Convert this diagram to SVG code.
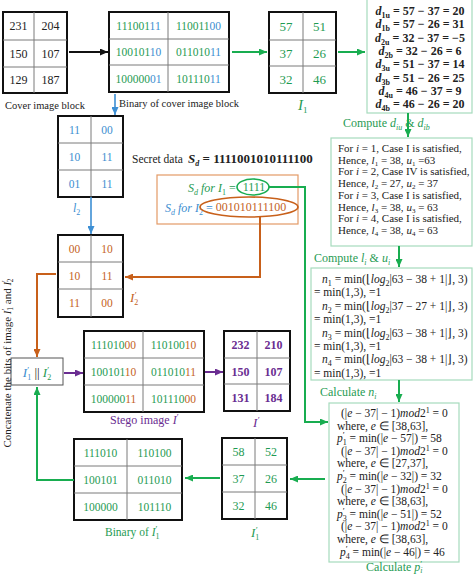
<svg xmlns="http://www.w3.org/2000/svg" width="474" height="576" viewBox="0 0 474 576">
<defs>
<marker id="mk" viewBox="0 0 8 7" refX="8" refY="3.5" markerWidth="8" markerHeight="7" markerUnits="userSpaceOnUse" orient="auto"><path d="M0,0 L8,3.5 L0,7 z" fill="#111"/></marker>
<marker id="mg" viewBox="0 0 8 7" refX="8" refY="3.5" markerWidth="8" markerHeight="7" markerUnits="userSpaceOnUse" orient="auto"><path d="M0,0 L8,3.5 L0,7 z" fill="#18ad50"/></marker>
<marker id="mb" viewBox="0 0 8 7" refX="8" refY="3.5" markerWidth="8" markerHeight="7" markerUnits="userSpaceOnUse" orient="auto"><path d="M0,0 L8,3.5 L0,7 z" fill="#3d8fd4"/></marker>
<marker id="mo" viewBox="0 0 8 7" refX="8" refY="3.5" markerWidth="8" markerHeight="7" markerUnits="userSpaceOnUse" orient="auto"><path d="M0,0 L8,3.5 L0,7 z" fill="#c8601a"/></marker>
<marker id="mp" viewBox="0 0 8 7" refX="8" refY="3.5" markerWidth="8" markerHeight="7" markerUnits="userSpaceOnUse" orient="auto"><path d="M0,0 L8,3.5 L0,7 z" fill="#6a2d91"/></marker>
</defs>
<style>
text{font-family:"Liberation Serif","Times New Roman",serif;fill:#222}
.out{fill:#fff;stroke:#111;stroke-width:2}
.in{stroke:#7a7a7a;stroke-width:1;fill:none}
.c{text-anchor:middle}
.n12{font-size:12px}
.n13{font-size:13px}
.bin{font-size:11.5px}
.g{fill:#1f9b53}
.b{fill:#3b8ed0}
.o{fill:#c4621d}
.p{fill:#6a2d91}
.it{font-style:italic}
.bd{font-weight:bold}
.box{fill:#fff;stroke:#a6dbbd;stroke-width:1.2}
.lg{stroke:#18ad50;stroke-width:2;fill:none}
.lb{stroke:#3d8fd4;stroke-width:1.6;fill:none}
.lo{stroke:#c8601a;stroke-width:2;fill:none}
.lp{stroke:#6a2d91;stroke-width:2;fill:none}
.lk{stroke:#111;stroke-width:2;fill:none}
.dt{font-size:12px;font-weight:bold;text-anchor:middle}
.bt{font-size:11px}
.nt{font-size:11.5px}
.cap{font-size:12px}
</style>
<rect width="474" height="576" fill="#fff"/>

<g id="cover">
<rect class="out" x="3" y="12" width="64" height="81"/>
<path class="in" d="M34,12V93M3,40H67M3,67H67"/>
<g class="c n12">
<text x="18.5" y="30">231</text><text x="50.5" y="30">204</text>
<text x="18.5" y="57.5">150</text><text x="50.5" y="57.5">107</text>
<text x="18.5" y="84">129</text><text x="50.5" y="84">187</text>
</g>
<text x="5" y="109" font-size="10.5">Cover image block</text>
</g>

<g id="binary-cover">
<rect class="out" x="109" y="12" width="120" height="80"/>
<path class="in" d="M168,12V92M109,39H229M109,65H229"/>
<g class="c bin">
<text x="138.5" y="29.5"><tspan class="g">111001</tspan><tspan class="b">11</tspan></text>
<text x="198.5" y="29.5"><tspan class="g">110011</tspan><tspan class="b">00</tspan></text>
<text x="138.5" y="56"><tspan class="g">100101</tspan><tspan class="b">10</tspan></text>
<text x="198.5" y="56"><tspan class="g">011010</tspan><tspan class="b">11</tspan></text>
<text x="138.5" y="82.5"><tspan class="g">100000</tspan><tspan class="b">01</tspan></text>
<text x="198.5" y="82.5"><tspan class="g">101110</tspan><tspan class="b">11</tspan></text>
</g>
<text x="119" y="107" font-size="10.5">Binary of cover image block</text>
</g>

<g id="I1">
<rect class="out" x="269" y="12" width="67" height="81"/>
<path class="in" d="M303,12V93M269,40H336M269,66H336"/>
<g class="c n13 g">
<text class="g" x="286" y="30.5">57</text><text class="g" x="319.5" y="30.5">51</text>
<text class="g" x="286" y="57.5">37</text><text class="g" x="319.5" y="57.5">26</text>
<text class="g" x="286" y="84">32</text><text class="g" x="319.5" y="84">46</text>
</g>
<text x="298" y="110" font-size="15" class="it g">I<tspan font-size="9" dy="3" font-style="normal" class="g">1</tspan></text>
</g>

<g id="d-box">
<rect class="box" x="367" y="-2" width="105" height="115"/>
<text class="dt" x="420" y="15"><tspan class="it">d</tspan><tspan font-size="8" dy="3">1u</tspan><tspan dy="-3"> = 57 − 37 = 20</tspan></text>
<text class="dt" x="420" y="28.3"><tspan class="it">d</tspan><tspan font-size="8" dy="3">1b</tspan><tspan dy="-3"> = 57 − 26 = 31</tspan></text>
<text class="dt" x="420" y="41.6"><tspan class="it">d</tspan><tspan font-size="8" dy="3">2u</tspan><tspan dy="-3"> = 32 − 37 = −5</tspan></text>
<text class="dt" x="420" y="54.9"><tspan class="it">d</tspan><tspan font-size="8" dy="3">2b</tspan><tspan dy="-3"> = 32 − 26 = 6</tspan></text>
<text class="dt" x="420" y="68.2"><tspan class="it">d</tspan><tspan font-size="8" dy="3">3u</tspan><tspan dy="-3"> = 51 − 37 = 14</tspan></text>
<text class="dt" x="420" y="81.5"><tspan class="it">d</tspan><tspan font-size="8" dy="3">3b</tspan><tspan dy="-3"> = 51 − 26 = 25</tspan></text>
<text class="dt" x="420" y="94.8"><tspan class="it">d</tspan><tspan font-size="8" dy="3">4u</tspan><tspan dy="-3"> = 46 − 37 = 9</tspan></text>
<text class="dt" x="420" y="108.1"><tspan class="it">d</tspan><tspan font-size="8" dy="3">4b</tspan><tspan dy="-3"> = 46 − 26 = 20</tspan></text>
</g>
<text class="cap g" x="343" y="127">Compute <tspan class="it g">d</tspan><tspan class="it g" font-size="8" dy="3">iu</tspan><tspan class="g" dy="-3"> &amp; </tspan><tspan class="it g">d</tspan><tspan class="it g" font-size="8" dy="3">ib</tspan></text>

<g id="case-box">
<rect class="box" x="331" y="138" width="141" height="108"/>
<text class="bt" x="338" y="152">For <tspan class="it">i</tspan> = 1, Case I is satisfied,</text>
<text class="bt" x="338" y="163.7">Hence, <tspan class="it">l</tspan><tspan font-size="7" dy="2">1</tspan><tspan dy="-2"> = 38, </tspan><tspan class="it">u</tspan><tspan font-size="7" dy="2">1</tspan><tspan dy="-2"> =63</tspan></text>
<text class="bt" x="338" y="175.4">For <tspan class="it">i</tspan> = 2, Case IV is satisfied,</text>
<text class="bt" x="338" y="187.1">Hence, <tspan class="it">l</tspan><tspan font-size="7" dy="2">2</tspan><tspan dy="-2"> = 27, </tspan><tspan class="it">u</tspan><tspan font-size="7" dy="2">2</tspan><tspan dy="-2"> = 37</tspan></text>
<text class="bt" x="338" y="198.8">For <tspan class="it">i</tspan> = 3, Case I is satisfied,</text>
<text class="bt" x="338" y="210.5">Hence, <tspan class="it">l</tspan><tspan font-size="7" dy="2">3</tspan><tspan dy="-2"> = 38, </tspan><tspan class="it">u</tspan><tspan font-size="7" dy="2">3</tspan><tspan dy="-2"> = 63</tspan></text>
<text class="bt" x="338" y="222.2">For <tspan class="it">i</tspan> = 4, Case I is satisfied,</text>
<text class="bt" x="338" y="233.9">Hence, <tspan class="it">l</tspan><tspan font-size="7" dy="2">4</tspan><tspan dy="-2"> = 38, </tspan><tspan class="it">u</tspan><tspan font-size="7" dy="2">4</tspan><tspan dy="-2"> = 63</tspan></text>
</g>
<text class="cap g" x="314" y="262">Compute <tspan class="it g">l</tspan><tspan class="it g" font-size="8" dy="3">i</tspan><tspan class="g" dy="-3"> &amp; </tspan><tspan class="it g">u</tspan><tspan class="it g" font-size="8" dy="3">i</tspan></text>

<g id="n-box">
<rect class="box" x="311" y="268" width="161" height="112"/>
<text class="nt" x="322" y="283"><tspan class="it">n</tspan><tspan font-size="8" dy="3">1</tspan><tspan dy="-3"> = min(⌊</tspan><tspan class="it">log</tspan><tspan font-size="8" dy="3">2</tspan><tspan dy="-3">|63 − 38 + 1|⌋, 3)</tspan></text>
<text class="nt" x="314" y="296.4">= min(1,3),  =1</text>
<text class="nt" x="322" y="309.8"><tspan class="it">n</tspan><tspan font-size="8" dy="3">2</tspan><tspan dy="-3"> = min(⌊</tspan><tspan class="it">log</tspan><tspan font-size="8" dy="3">2</tspan><tspan dy="-3">|37 − 27 + 1|⌋, 3)</tspan></text>
<text class="nt" x="314" y="323.2">= min(1,3),  =1</text>
<text class="nt" x="322" y="336.6"><tspan class="it">n</tspan><tspan font-size="8" dy="3">3</tspan><tspan dy="-3"> = min(⌊</tspan><tspan class="it">log</tspan><tspan font-size="8" dy="3">2</tspan><tspan dy="-3">|63 − 38 + 1|⌋, 3)</tspan></text>
<text class="nt" x="314" y="350">= min(1,3),  =1</text>
<text class="nt" x="322" y="363.4"><tspan class="it">n</tspan><tspan font-size="8" dy="3">4</tspan><tspan dy="-3"> = min(⌊</tspan><tspan class="it">log</tspan><tspan font-size="8" dy="3">2</tspan><tspan dy="-3">|63 − 38 + 1|⌋, 3)</tspan></text>
<text class="nt" x="314" y="376.8">= min(1,3),  =1</text>
</g>
<text class="cap g" x="320" y="396">Calculate <tspan class="it g">n</tspan><tspan class="it g" font-size="8" dy="3">i</tspan></text>

<g id="p-box">
<rect class="box" x="329" y="403" width="130" height="159"/>
<text class="nt" x="341" y="417">(|<tspan class="it">e</tspan> − 37| − 1)<tspan class="it">mod</tspan>2<tspan font-size="8" dy="-4">1</tspan><tspan dy="4"> = 0</tspan></text>
<text class="nt" x="337" y="429.6">where, <tspan class="it">e</tspan> ∈ [38,63],</text>
<text class="nt" x="337" y="442.2"><tspan class="it">p</tspan><tspan font-size="9" dy="-4">′</tspan><tspan font-size="8" dy="7" dx="-2">1</tspan><tspan dy="-3"> = min(|</tspan><tspan class="it">e</tspan> − 57|) = 58</text>
<text class="nt" x="341" y="454.8">(|<tspan class="it">e</tspan> − 37| − 1)<tspan class="it">mod</tspan>2<tspan font-size="8" dy="-4">1</tspan><tspan dy="4"> = 0</tspan></text>
<text class="nt" x="337" y="467.4">where, <tspan class="it">e</tspan> ∈ [27,37],</text>
<text class="nt" x="337" y="480"><tspan class="it">p</tspan><tspan font-size="9" dy="-4">′</tspan><tspan font-size="8" dy="7" dx="-2">2</tspan><tspan dy="-3"> = min(|</tspan><tspan class="it">e</tspan> − 32|) = 32</text>
<text class="nt" x="341" y="492.6">(|<tspan class="it">e</tspan> − 37| − 1)<tspan class="it">mod</tspan>2<tspan font-size="8" dy="-4">1</tspan><tspan dy="4"> = 0</tspan></text>
<text class="nt" x="337" y="505.2">where, <tspan class="it">e</tspan> ∈ [38,63],</text>
<text class="nt" x="337" y="517.8"><tspan class="it">p</tspan><tspan font-size="9" dy="-4">′</tspan><tspan font-size="8" dy="7" dx="-2">3</tspan><tspan dy="-3"> = min(|</tspan><tspan class="it">e</tspan> − 51|) = 52</text>
<text class="nt" x="341" y="530.4">(|<tspan class="it">e</tspan> − 37| − 1)<tspan class="it">mod</tspan>2<tspan font-size="8" dy="-4">1</tspan><tspan dy="4"> = 0</tspan></text>
<text class="nt" x="337" y="543">where, <tspan class="it">e</tspan> ∈ [38,63],</text>
<text class="nt" x="340" y="555.6"><tspan class="it">p</tspan><tspan font-size="9" dy="-4">′</tspan><tspan font-size="8" dy="7" dx="-2">4</tspan><tspan dy="-3"> = min(|</tspan><tspan class="it">e</tspan> − 46|) = 46</text>
</g>
<text class="cap g" x="366" y="571">Calculate <tspan class="it g">p</tspan><tspan class="g" font-size="9" dy="-4">′</tspan><tspan class="it g" font-size="8" dy="6" dx="-2">i</tspan></text>

<g id="I2">
<rect class="out" x="58" y="116" width="65" height="81"/>
<path class="in" d="M91,116V197M58,143H123M58,170H123"/>
<g class="c bin">
<text class="b" x="74.5" y="133.5">11</text><text class="b" x="107" y="133.5">00</text>
<text class="b" x="74.5" y="160.5">10</text><text class="b" x="107" y="160.5">11</text>
<text class="b" x="74.5" y="187.5">01</text><text class="b" x="107" y="187.5">11</text>
</g>
<text class="b it" x="73" y="212" font-size="12">l<tspan class="b" font-size="8" dy="3" font-style="normal">2</tspan></text>
</g>

<g id="secret">
<text x="132" y="163" font-size="11.5">Secret data</text>
<text x="188" y="163" font-size="13" class="bd"><tspan class="it">S</tspan><tspan font-size="8" dy="3" class="it">d</tspan><tspan dy="-3"> = 1111001010111100</tspan></text>
</g>

<g id="split-box">
<rect x="157" y="175" width="141" height="49" fill="#fff" stroke="#e39a66" stroke-width="1.2"/>
<text x="188" y="192" font-size="12" class="it g">S<tspan class="g" font-size="8" dy="3">d</tspan><tspan class="g" dy="-3"> for I</tspan><tspan class="g" font-size="8" dy="3" font-style="normal">1</tspan><tspan class="g" dy="-3" font-style="normal"> =</tspan></text>
<ellipse cx="253" cy="187" rx="16" ry="8" fill="none" stroke="#18ad50" stroke-width="1.6"/>
<text x="254" y="191" font-size="12" class="c g">1111</text>
<text x="165" y="212" font-size="12" class="it b">S<tspan class="b" font-size="8" dy="3">d</tspan><tspan class="b" dy="-3"> for I</tspan><tspan class="b" font-size="8" dy="3" font-style="normal">2</tspan><tspan class="b" dy="-3" font-style="normal"> =</tspan></text>
<ellipse cx="249" cy="207" rx="49" ry="10" fill="none" stroke="#c8601a" stroke-width="1.6"/>
<text x="251" y="211" font-size="12" class="c o">001010111100</text>
</g>

<g id="I2p">
<rect class="out" x="58" y="235" width="65" height="82"/>
<path class="in" d="M91,235V317M58,262H123M58,289H123"/>
<g class="c bin">
<text class="o" x="74.5" y="252.5">00</text><text class="o" x="107" y="252.5">10</text>
<text class="o" x="74.5" y="279.5">10</text><text class="o" x="107" y="279.5">11</text>
<text class="o" x="74.5" y="307">11</text><text class="o" x="107" y="307">00</text>
</g>
<text class="o it" x="130" y="302" font-size="13">I<tspan class="o" font-size="9" dy="-4">′</tspan><tspan class="o" font-size="8" dy="7" dx="-2" font-style="normal">2</tspan></text>
</g>

<g id="concat">
<rect x="11" y="358" width="52" height="27" fill="#fff" stroke="#555" stroke-width="1"/>
<text x="37" y="377" font-size="13" class="c"><tspan class="b it">I</tspan><tspan class="b" font-size="9" dy="-4">′</tspan><tspan class="b" font-size="8" dy="7" dx="-2">1</tspan><tspan dy="-3"> || </tspan><tspan class="g it">I</tspan><tspan class="g" font-size="9" dy="-4">′</tspan><tspan class="g" font-size="8" dy="7" dx="-2">2</tspan></text>
<text transform="translate(11,363) rotate(-90)" font-size="11" class="c">Concatenate the bits of image <tspan class="it">I</tspan><tspan font-size="8" dy="-3">′</tspan><tspan font-size="7.5" dy="5" dx="-2">1</tspan><tspan dy="-2"> and </tspan><tspan class="it">I</tspan><tspan font-size="8" dy="-3">′</tspan><tspan font-size="7.5" dy="5" dx="-2">2</tspan></text>
</g>

<g id="stego">
<rect class="out" x="84" y="331" width="120" height="81"/>
<path class="in" d="M143,331V412M84,358H204M84,385H204"/>
<g class="c bin">
<text x="113.5" y="348.5"><tspan class="g">111010</tspan><tspan class="o">00</tspan></text>
<text x="173.5" y="348.5"><tspan class="g">110100</tspan><tspan class="o">10</tspan></text>
<text x="113.5" y="375.5"><tspan class="g">100101</tspan><tspan class="o">10</tspan></text>
<text x="173.5" y="375.5"><tspan class="g">011010</tspan><tspan class="o">11</tspan></text>
<text x="113.5" y="402.5"><tspan class="g">100000</tspan><tspan class="o">11</tspan></text>
<text x="173.5" y="402.5"><tspan class="g">101110</tspan><tspan class="o">00</tspan></text>
</g>
<text class="p" x="110" y="424" font-size="12">Stego image <tspan class="p it">I</tspan><tspan class="p" font-size="9" dy="-4">′</tspan></text>
</g>

<g id="Ip">
<rect class="out" x="224" y="331" width="66" height="80"/>
<path class="in" d="M257,331V411M224,358H290M224,384H290"/>
<g class="c n12 bd">
<text class="p" x="240.5" y="349">232</text><text class="p" x="273.5" y="349">210</text>
<text class="p" x="240.5" y="375.5">150</text><text class="p" x="273.5" y="375.5">107</text>
<text class="p" x="240.5" y="402">131</text><text class="p" x="273.5" y="402">184</text>
</g>
<text class="p it" x="253" y="427" font-size="13">I<tspan class="p" font-size="9" dy="-4">′</tspan></text>
</g>

<g id="I1p">
<rect class="out" x="222" y="438" width="65" height="81"/>
<path class="in" d="M255,438V519M222,465H287M222,492H287"/>
<g class="c n12">
<text class="g" x="238.5" y="456">58</text><text class="g" x="271" y="456">52</text>
<text class="g" x="238.5" y="483">37</text><text class="g" x="271" y="483">26</text>
<text class="g" x="238.5" y="510">32</text><text class="g" x="271" y="510">46</text>
</g>
<text class="g it" x="251" y="537" font-size="13">I<tspan class="g" font-size="9" dy="-4">′</tspan><tspan class="g" font-size="8" dy="7" dx="-2" font-style="normal">1</tspan></text>
</g>

<g id="binary-I1p">
<rect class="out" x="74" y="439" width="108" height="81"/>
<path class="in" d="M127,439V520M74,466H182M74,493H182"/>
<g class="c bin">
<text class="g" x="100.5" y="456.5">111010</text><text class="g" x="154.5" y="456.5">110100</text>
<text class="g" x="100.5" y="483.5">100101</text><text class="g" x="154.5" y="483.5">011010</text>
<text class="g" x="100.5" y="510.5">100000</text><text class="g" x="154.5" y="510.5">101110</text>
</g>
<text class="g" x="105" y="536" font-size="11.5">Binary of <tspan class="g it">I</tspan><tspan class="g" font-size="9" dy="-4">′</tspan><tspan class="g" font-size="8" dy="7" dx="-2">1</tspan></text>
</g>

<g id="connectors">
<path class="lk" d="M69,52H108" marker-end="url(#mk)"/>
<path class="lg" d="M232,52H267" marker-end="url(#mg)"/>
<path class="lg" d="M338,52H365" marker-end="url(#mg)"/>
<path class="lg" d="M408,113V137" marker-end="url(#mg)"/>
<path class="lg" d="M399,246V267" marker-end="url(#mg)"/>
<path class="lg" d="M399,380V402" marker-end="url(#mg)"/>
<path class="lg" d="M269,187H305V422H328" marker-end="url(#mg)"/>
<path class="lg" d="M325,479H290" marker-end="url(#mg)"/>
<path class="lg" d="M220,478H185" marker-end="url(#mg)"/>
<path class="lg" d="M74,480H37V387" marker-end="url(#mg)"/>
<path class="lo" d="M260,217V277H125" marker-end="url(#mo)"/>
<path class="lo" d="M56,274H37V357" marker-end="url(#mo)"/>
<path class="lp" d="M64,373H83" marker-end="url(#mp)"/>
<path class="lp" d="M205,372H223" marker-end="url(#mp)"/>
<path class="lb" d="M115,94V115" marker-end="url(#mb)"/>
<path class="lb" d="M91,197V234" marker-end="url(#mb)"/>
</g>
</svg>
